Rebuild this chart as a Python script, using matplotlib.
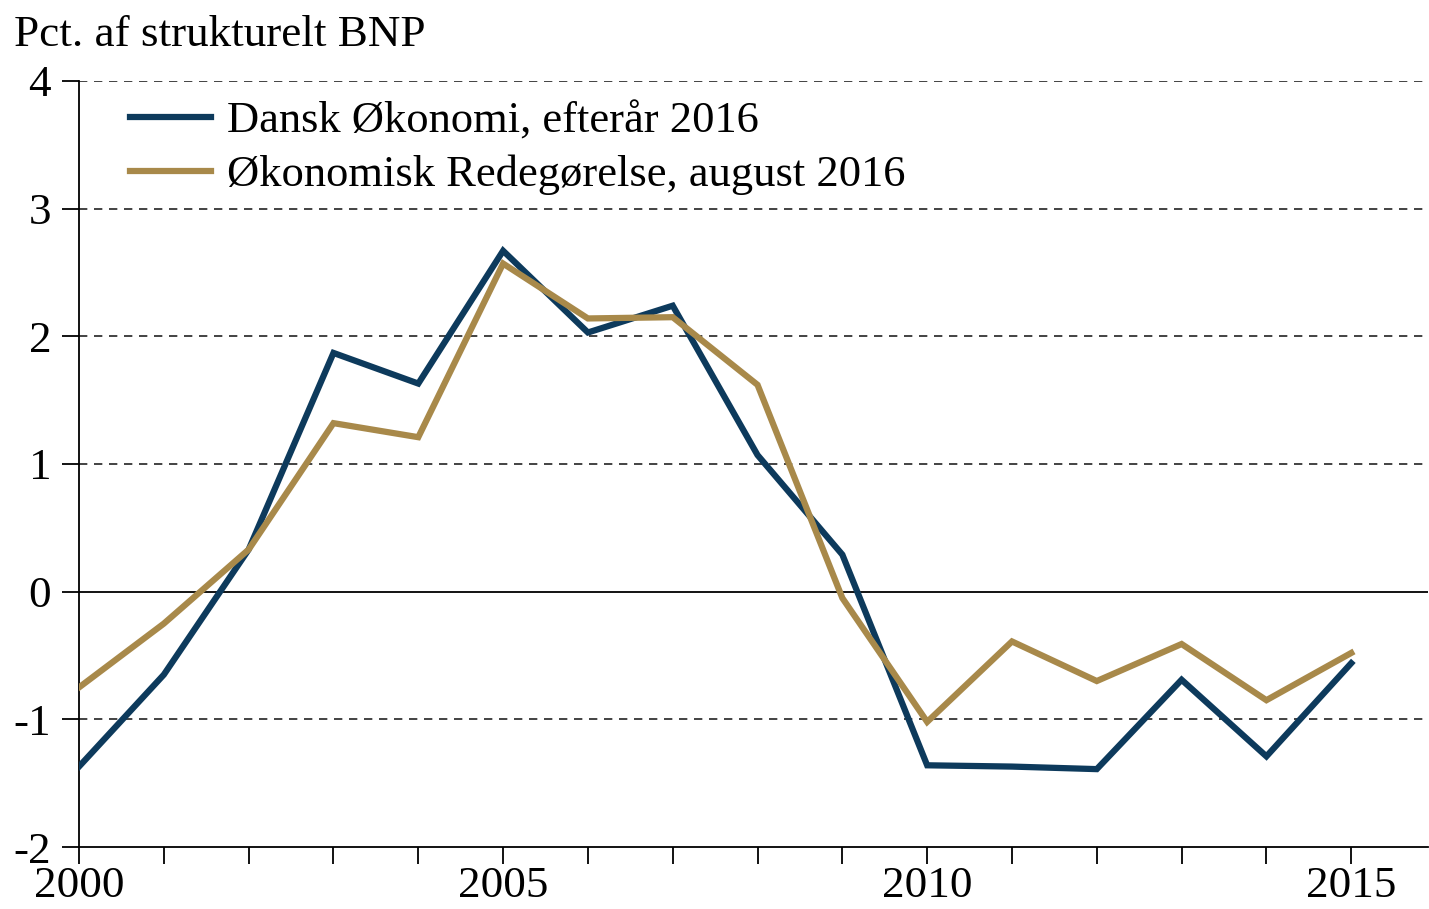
import matplotlib
matplotlib.use("Agg")
import matplotlib.pyplot as plt
from matplotlib.ticker import FuncFormatter

years = list(range(2000, 2016))
dansk_okonomi = [-1.37, -0.65, 0.33, 1.87, 1.63, 2.67, 2.03, 2.24, 1.07, 0.29,
                 -1.36, -1.37, -1.39, -0.69, -1.29, -0.56]
okonomisk_redegorelse = [-0.75, -0.25, 0.33, 1.32, 1.21, 2.57, 2.14, 2.15, 1.62, -0.05,
                         -1.02, -0.39, -0.70, -0.41, -0.85, -0.48]
labels = ["Dansk Økonomi, efterår 2016", "Økonomisk Redegørelse, august 2016"]
colors = ["#0d3a5c", "#a8894a"]
ylabel = "Pct. af strukturelt BNP"

plt.rcParams['font.family'] = ['Liberation Serif', 'DejaVu Serif']

fig = plt.figure(figsize=(14.29, 9.09), dpi=100)
ax = fig.add_axes([0.0553, 0.0682, 0.9437, 0.8427])

for yv in [-1, 1, 2, 3, 4]:
    ax.axhline(yv, color="#222222", lw=1.2, ls=(0, (5, 4)), zorder=1)
ax.axhline(0, color="black", lw=1.3, zorder=1)

ax.plot(years, dansk_okonomi, color=colors[0], lw=4.5, label=labels[0], zorder=3,
        solid_joinstyle="miter")
ax.plot(years, okonomisk_redegorelse, color=colors[1], lw=4.5, label=labels[1], zorder=4,
        solid_joinstyle="miter")

ax.set_xlim(2000, 2015.9)
ax.set_ylim(-2, 4)
ax.set_yticks(range(-2, 5))
ax.yaxis.set_major_formatter(FuncFormatter(lambda v, p: f"{int(v)}"))
ax.set_xticks(years)
ax.set_xticklabels([str(y) if y % 5 == 0 else "" for y in years])

for s in ["top", "right"]:
    ax.spines[s].set_visible(False)
ax.spines["left"].set_linewidth(1.3)
ax.spines["bottom"].set_linewidth(1.3)
ax.tick_params(axis="both", direction="out", length=12, width=1.3, labelsize=32.5,
               colors="black")
ax.tick_params(axis="x", pad=1.5)
ax.tick_params(axis="y", pad=8)

fig.text(0.01, 0.962, ylabel, fontsize=32.5, ha="left", va="center")

leg = ax.legend(loc="upper left", bbox_to_anchor=(0.018, 1.008), frameon=False,
                fontsize=32, handlelength=1.82, handletextpad=0.36,
                labelspacing=0.3, borderaxespad=0.2)

fig.savefig("out.png", dpi=100)
